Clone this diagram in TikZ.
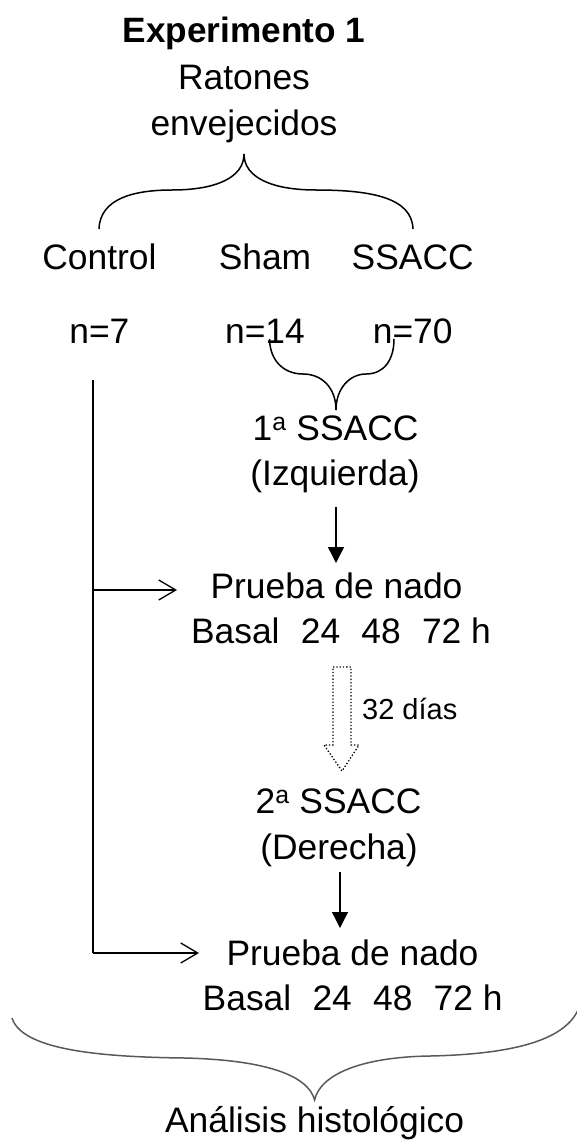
\documentclass[tikz,border=0pt]{standalone}
\usepackage{fontspec}
\setmainfont{Liberation Sans}
\usetikzlibrary{arrows.meta}
\begin{document}
\begin{tikzpicture}[x=1pt,y=-1pt,
  txt/.style={anchor=base,inner sep=0pt,font=\fontsize{35.4}{42}\selectfont},
  small/.style={anchor=base west,inner sep=0pt,font=\fontsize{29}{34}\selectfont},
  ln/.style={line width=1.4pt,black},
  brace/.style={line width=1.5pt,black},
  fillarrow/.style={ln,-{Triangle[length=16pt,width=16pt]}},
  openarrow/.style={ln,-{Straight Barb[length=17pt,width=20pt,line width=1.3pt]}}]
\useasboundingbox (0,0) rectangle (577,1142);
% texts
\node[txt,font=\fontsize{35.2}{42}\selectfont\bfseries] (title) at (244,43) {Experimento 1};
\node[txt] (rat) at (244,90) {Ratones};
\node[txt] (env) at (244,136) {envejecidos};
\node[txt] (ctrl) at (99.4,269) {Control};
\node[txt] (sham) at (265,269) {Sham};
\node[txt] (ssacc) at (412.7,269) {SSACC};
\node[txt] (n7) at (99.4,343) {n=7};
\node[txt] (n14) at (265,343) {n=14};
\node[txt] (n70) at (412.7,343) {n=70};
\node[txt] (s1) at (335.5,440) {1\textsuperscript{a} SSACC};
\node[txt] (izq) at (335,485) {(Izquierda)};
\node[txt] (p1) at (336.5,598) {Prueba de nado};
\node[txt] (b1) at (341,643) {Basal\hspace{0.6em}24\hspace{0.6em}48\hspace{0.6em}72 h};
\node[small] (dias) at (362,719) {32 días};
\node[txt] (s2) at (338.5,813) {2\textsuperscript{a} SSACC};
\node[txt] (der) at (339,859) {(Derecha)};
\node[txt] (p2) at (352.5,965) {Prueba de nado};
\node[txt] (b2) at (352.7,1010) {Basal\hspace{0.6em}24\hspace{0.6em}48\hspace{0.6em}72 h};
\node[txt] (hist) at (314.6,1132) {Análisis histológico};
% brace 1
\coordinate (t1) at (244,154);
\coordinate (l1) at (99,229);
\coordinate (r1) at (413,229);
\draw[brace] (l1) .. controls (100,198) and (135,190) .. (172,190)
  .. controls (215,190) and (244,178) .. (t1)
  .. controls (244,178) and (273,190) .. (316,190)
  .. controls (372,190) and (412,198) .. (r1);
% brace 2
\coordinate (t2) at (336,410);
\coordinate (l2) at (269.5,339);
\coordinate (r2) at (394,339);
\draw[brace] (l2) .. controls (270,362) and (285,374) .. (303,374)
  .. controls (322,374) and (336,388) .. (t2)
  .. controls (336,388) and (350,374) .. (366,374)
  .. controls (384,374) and (394,360) .. (r2);
% arrows
\coordinate (a1s) at (336,507);
\coordinate (a1e) at (336,563);
\draw[fillarrow] (a1s) -- (a1e);
\coordinate (a3s) at (340,872);
\coordinate (a3e) at (340,928);
\draw[fillarrow] (a3s) -- (a3e);
% left line
\coordinate (vtop) at (93,380);
\coordinate (vm) at (93,590);
\coordinate (vbot) at (93,953);
\coordinate (e1) at (177,590);
\coordinate (e2) at (199,953);
\draw[ln] (vtop) -- (vbot);
\draw[openarrow] (vm) -- (e1);
\draw[openarrow] (vbot) -- (e2);
% dotted hollow arrow
\draw[line width=1.3pt,dotted] (333,667) -- (351,667) -- (351,745) -- (359,745) -- (342,771) -- (324,745) -- (333,745) -- cycle;
% big brace
\coordinate (t3) at (314.6,1100);
\coordinate (l3) at (12,1018);
\coordinate (r3) at (578,1010);
\draw[line width=1.5pt,black!65] (l3) .. controls (22,1050) and (100,1057) .. (185,1058)
  .. controls (265,1060) and (308,1075) .. (t3)
  .. controls (320,1075) and (360,1057) .. (430,1056)
  .. controls (520,1054) and (565,1038) .. (r3);
\end{tikzpicture}
\end{document}
